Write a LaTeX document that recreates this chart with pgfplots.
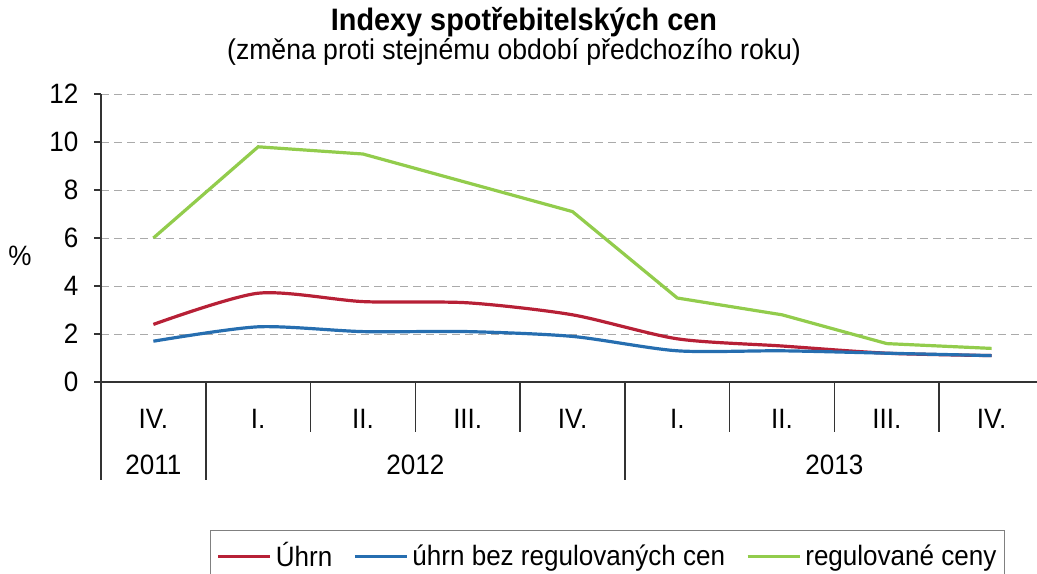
\documentclass[border=0pt]{standalone}
\usepackage{fontspec}
\setmainfont[FakeStretch=0.93]{Liberation Sans}
\usepackage{pgfplots}
\pgfplotsset{compat=1.18}
\definecolor{cRed}{RGB}{183,32,54}
\definecolor{cBlue}{RGB}{38,110,176}
\definecolor{cGreen}{RGB}{146,204,76}
\definecolor{cGrid}{RGB}{170,170,170}
\begin{document}
\fontsize{14pt}{16pt}\selectfont
\begin{tikzpicture}
\useasboundingbox (0,0) rectangle (518.5pt,-286.5pt);
\node[font=\bfseries\fontsize{15.5pt}{17pt}\selectfont] at (262pt,-11pt) {Indexy spotřebitelských cen};
\node[font=\fontsize{14.3pt}{16pt}\selectfont] at (257pt,-26pt) {(změna proti stejnému období předchozího roku)};
\node at (10pt,-128pt) {\%};
\begin{axis}[
  at={(50.5pt,-191pt)}, anchor=south west,
  scale only axis, width=471.5pt, height=144pt,
  xmin=-0.5, xmax=8.5, ymin=0, ymax=12,
  axis x line*=bottom, axis y line*=left,
  axis line style={-, line width=0.8pt, black!80},
  ytick={0,2,...,12},
  ymajorgrids,
  major grid style={cGrid, dash pattern=on 4pt off 2.5pt, line width=0.5pt},
  tick style={black!80, line width=0.8pt},
  tick align=outside,
  major tick length=3.5pt,
  xtick=data,
  xticklabels={IV.,I.,II.,III.,IV.,I.,II.,III.,IV.},
  x tick style={draw=none},
  xticklabel style={anchor=center, yshift=-15pt},
  yticklabel style={xshift=-3pt},
  ticklabel style={font=\fontsize{14pt}{16pt}\selectfont},
  /pgf/number format/assume math mode=true,
  clip=false,
  legend columns=3,
  legend style={at={(0.1156,-0.514)}, anchor=north west, draw=black!50, line width=0.6pt,
    inner xsep=3pt, inner ysep=4pt,
    font=\fontsize{14pt}{16pt}\selectfont,
    /tikz/every odd column/.append style={column sep=1pt},
    /tikz/every even column/.append style={column sep=9.5pt},
    nodes={inner xsep=1pt}},
  legend image code/.code={\draw[#1] (0pt,0pt) -- (26pt,0pt);},
]
\addplot[cRed, line width=1.6pt, smooth, tension=0.45] coordinates {
(0,2.4) (1,3.7) (2,3.35) (3,3.3) (4,2.8) (5,1.8) (6,1.5) (7,1.2) (8,1.1)};
\addlegendentry{Úhrn}
\addplot[cBlue, line width=1.6pt, smooth, tension=0.45] coordinates {
(0,1.7) (1,2.3) (2,2.1) (3,2.1) (4,1.9) (5,1.3) (6,1.3) (7,1.2) (8,1.1)};
\addlegendentry{úhrn bez regulovaných cen}
\addplot[cGreen, line width=1.6pt] coordinates {
(0,6.0) (1,9.8) (2,9.5) (3,8.3) (4,7.1) (5,3.5) (6,2.8) (7,1.6) (8,1.4)};
\addlegendentry{regulované ceny}
% category separators
\pgfplotsinvokeforeach{-0.5,0.5,4.5}{\draw[black!80, line width=0.8pt] (axis cs:#1,0) -- ++(0pt,-49pt);}
\pgfplotsinvokeforeach{1.5,2.5,3.5,5.5,6.5,7.5}{\draw[black!80, line width=0.8pt] (axis cs:#1,0) -- ++(0pt,-25pt);}
\node at (axis cs:0,0) [yshift=-41.5pt] {2011};
\node at (axis cs:2.5,0) [yshift=-41.5pt] {2012};
\node at (axis cs:6.5,0) [yshift=-41.5pt] {2013};
\end{axis}
\end{tikzpicture}
\end{document}
